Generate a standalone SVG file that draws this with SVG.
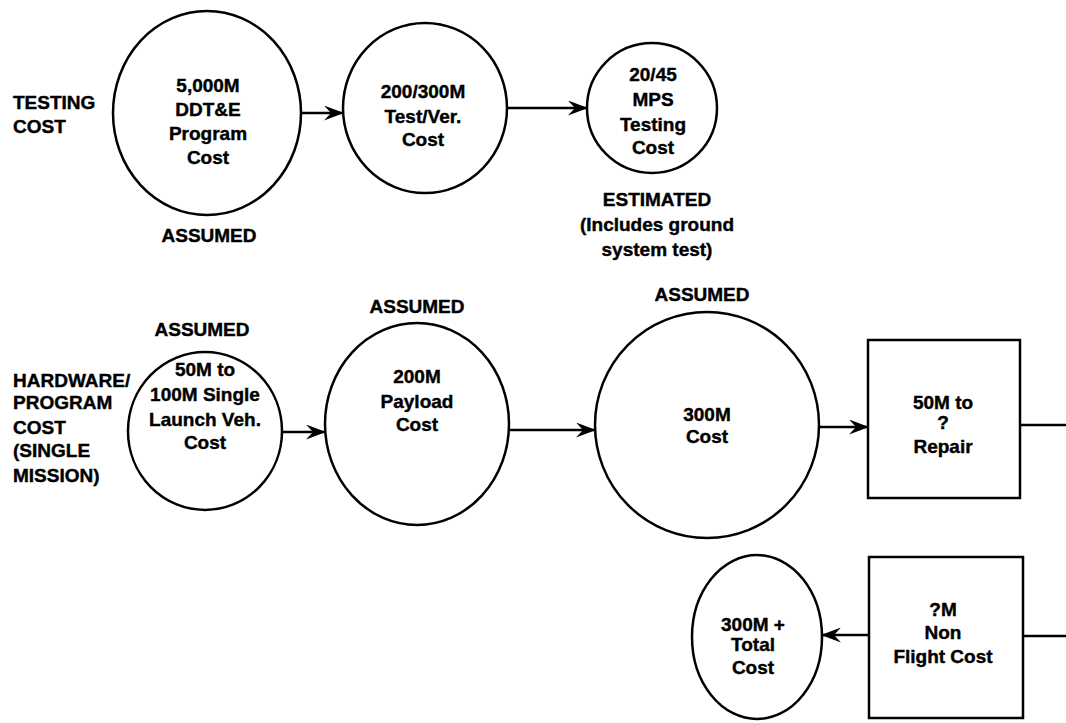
<svg xmlns="http://www.w3.org/2000/svg" width="1066" height="723" viewBox="0 0 1066 723">
<defs>
<marker id="arr" markerWidth="20" markerHeight="15" refX="19" refY="7.5" orient="auto" markerUnits="userSpaceOnUse">
<path d="M0,0 L20,7.5 L0,15 L7,7.5 Z" fill="#000"/>
</marker>
<style>
text{font-family:"Liberation Sans",Arial,sans-serif;font-weight:bold;font-size:19px;fill:#000;stroke:#000;stroke-width:0.4}
.c{text-anchor:middle}
.shape{fill:#fff;stroke:#000;stroke-width:2.5}
.conn{fill:none;stroke:#000;stroke-width:2.5}
</style>
</defs>
<rect width="1066" height="723" fill="#fff"/>

<g id="label-testing">
<text x="13" y="109">TESTING</text>
<text x="13" y="133">COST</text>
</g>
<g id="label-hardware">
<text x="13" y="387">HARDWARE/</text>
<text x="13" y="409">PROGRAM</text>
<text x="13" y="434">COST</text>
<text x="13" y="457">(SINGLE</text>
<text x="13" y="482">MISSION)</text>
</g>

<g id="connectors">
<line class="conn" x1="300" y1="113" x2="343" y2="113" marker-end="url(#arr)"/>
<line class="conn" x1="507" y1="108" x2="587" y2="108" marker-end="url(#arr)"/>
<line class="conn" x1="282" y1="432" x2="325" y2="432" marker-end="url(#arr)"/>
<line class="conn" x1="510" y1="430" x2="595" y2="430" marker-end="url(#arr)"/>
<line class="conn" x1="820" y1="427" x2="868" y2="427" marker-end="url(#arr)"/>
<line class="conn" x1="1020" y1="425" x2="1066" y2="425"/>
<line class="conn" x1="1023" y1="636" x2="1066" y2="636"/>
<line class="conn" x1="869" y1="635" x2="822" y2="635" marker-end="url(#arr)"/>
</g>

<g id="node-ddte">
<ellipse class="shape" cx="207" cy="113" rx="94" ry="102"/>
<text class="c" x="208" y="92">5,000M</text>
<text class="c" x="208" y="116">DDT&amp;E</text>
<text class="c" x="208" y="140">Program</text>
<text class="c" x="208" y="164">Cost</text>
<text class="c" x="209" y="242">ASSUMED</text>
</g>

<g id="node-testver">
<ellipse class="shape" cx="425" cy="108" rx="82" ry="85"/>
<text class="c" x="423" y="98">200/300M</text>
<text class="c" x="423" y="123">Test/Ver.</text>
<text class="c" x="423" y="146">Cost</text>
</g>

<g id="node-mps">
<ellipse class="shape" cx="652" cy="108" rx="65" ry="65"/>
<text class="c" x="653" y="81">20/45</text>
<text class="c" x="653" y="106">MPS</text>
<text class="c" x="653" y="131">Testing</text>
<text class="c" x="653" y="154">Cost</text>
<text class="c" x="657" y="206">ESTIMATED</text>
<text class="c" x="657" y="231">(Includes ground</text>
<text class="c" x="657" y="256">system test)</text>
</g>

<g id="node-launch">
<ellipse class="shape" cx="205" cy="431" rx="77" ry="79"/>
<text class="c" x="202" y="336">ASSUMED</text>
<text class="c" x="205" y="376">50M to</text>
<text class="c" x="205" y="401">100M Single</text>
<text class="c" x="205" y="426">Launch Veh.</text>
<text class="c" x="205" y="449">Cost</text>
</g>

<g id="node-payload">
<ellipse class="shape" cx="417" cy="424" rx="92" ry="101"/>
<text class="c" x="417" y="313">ASSUMED</text>
<text class="c" x="417" y="383">200M</text>
<text class="c" x="417" y="408">Payload</text>
<text class="c" x="417" y="431">Cost</text>
</g>

<g id="node-300m">
<ellipse class="shape" cx="707" cy="425" rx="112" ry="113"/>
<text class="c" x="702" y="301">ASSUMED</text>
<text class="c" x="707" y="421">300M</text>
<text class="c" x="707" y="443">Cost</text>
</g>

<g id="node-repair">
<rect class="shape" x="868" y="340" width="152" height="158"/>
<text class="c" x="943" y="409">50M to</text>
<text class="c" x="943" y="429">?</text>
<text class="c" x="943" y="453">Repair</text>
</g>

<g id="node-nonflight">
<rect class="shape" x="869" y="557" width="154" height="161"/>
<text class="c" x="943" y="616">?M</text>
<text class="c" x="943" y="639">Non</text>
<text class="c" x="943" y="663">Flight Cost</text>
</g>

<g id="node-total">
<ellipse class="shape" cx="757" cy="637" rx="65" ry="82"/>
<text class="c" x="753" y="631">300M +</text>
<text class="c" x="753" y="651">Total</text>
<text class="c" x="753" y="674">Cost</text>
</g>
</svg>
